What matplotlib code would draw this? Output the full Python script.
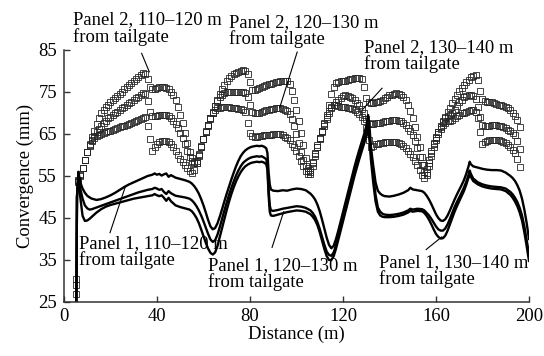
import matplotlib
matplotlib.use("Agg")
import matplotlib.pyplot as plt
import numpy as np

plt.rcParams['font.family'] = 'serif'
plt.rcParams['font.serif'] = ['Liberation Serif', 'Times New Roman', 'DejaVu Serif']
plt.rcParams['font.size'] = 13.4

# Panel 2 convergence, one reading per metre from 5 m
p2_start = 5
p2_110_120 = [
    27, 53.5, 55, 56.8, 58.7, 60.7, 62.6, 64.3, 65.8, 67.3,
    68.8, 70, 70.8, 71.5, 72, 72.5, 73, 73.6, 74.1, 74.6,
    75.1, 75.6, 76.1, 76.7, 77.2, 77.7, 78.2, 78.6, 79, 79.5,
    79.2, 78, 76.3, 75.6, 75.8, 76, 76.1, 76.2, 76.2, 76,
    75.6, 75, 74.2, 73, 71.5, 69.5, 67.5, 65.3, 62.8, 60.8,
    59.3, 58.3, 58.1, 59.8, 62, 63.9, 65.6, 67.2, 68.7, 70.2,
    71.7, 73.1, 74.5, 75.7, 76.7, 77.6, 78.3, 78.8, 79.2, 79.5,
    79.8, 80, 80.2, 80, 79.2, 77.3, 75.4, 75.5, 75.7, 75.9,
    76.1, 76.4, 76.6, 76.8, 77, 77.2, 77.3, 77.4, 77.5, 77.6,
    77.7, 77.6, 76.8, 75.2, 73.2, 70.8, 68.2, 65.3, 62.3, 59.3,
    56.8, 55.4, 57.4, 59.8, 62, 64, 65.8, 67.5, 69.5, 72,
    74.6, 76.2, 77.1, 77.4, 77.5, 77.5, 77.6, 77.8, 78, 78.2,
    78.3, 78.3, 78.3, 78.1, 76.3, 73.5, 72.6, 72.4, 72.4, 72.5,
    72.7, 72.9, 73.2, 73.5, 73.9, 74.2, 74.4, 74.6, 74.7, 74.6,
    74.3, 73.8, 73.1, 72, 70.5, 68.7, 66.6, 64.3, 61.8, 59.5,
    57.6, 56.6, 58.8, 61, 62.8, 64.2, 65.4, 66.6, 67.8, 69,
    70.2, 71.2, 72.3, 73.3, 74.3, 75.2, 76, 76.7, 77.3, 77.9,
    78.5, 78.9, 79, 77.8, 75.2, 73.4, 72.8, 72.5, 72.5, 72.5,
    72.4, 72.2, 72, 71.8, 71.6, 71.4, 71.1, 70.7, 70.1, 69.3,
    68.3, 66.7,
]
p2_120_130 = [
    29, 53.8, 55.2, 56.9, 58.8, 60.6, 62.3, 63.6, 64.6, 65.5,
    66.3, 67, 67.6, 68.2, 68.7, 69.1, 69.5, 69.9, 70.3, 70.7,
    71.1, 71.5, 71.9, 72.3, 72.7, 73.1, 73.5, 73.9, 74.3, 74.7,
    74.6, 72.8, 70.2, 69.2, 69.3, 69.4, 69.5, 69.6, 69.6, 69.5,
    69.2, 68.8, 68.2, 67.4, 66.4, 65.3, 64, 62.6, 61, 59.6,
    58.6, 58, 58.6, 60.2, 62.1, 63.8, 65.4, 67, 68.6, 70,
    71.6, 72.8, 73.7, 74.3, 74.7, 74.9, 75, 75, 75.1, 75.1,
    75, 75, 74.9, 74.7, 73.8, 71.8, 70.3, 70, 69.9, 70,
    70.2, 70.4, 70.6, 70.8, 70.9, 71, 71.1, 71.1, 71.1, 71,
    70.8, 70.4, 69.7, 68.5, 66.9, 65, 62.9, 60.8, 58.9, 57.3,
    56.2, 56.5, 58.4, 60.5, 62.3, 64, 65.7, 67.3, 69, 70.5,
    71.4, 72, 72.5, 73, 73.5, 74, 74.2, 74.1, 73.9, 73.5,
    73, 72.4, 71.8, 71, 70, 68.6, 67.7, 67.4, 67.4, 67.5,
    67.6, 67.7, 67.9, 68, 68.1, 68.2, 68.3, 68.3, 68.3, 68.2,
    68, 67.7, 67.2, 66.5, 65.7, 64.7, 63.3, 61.6, 59.6, 57.6,
    56, 55.6, 58, 60.5, 62.5, 64, 65.5, 66.8, 68, 68.8,
    69.2, 69.6, 70, 70.8, 71.7, 72.5, 73.2, 73.7, 74, 74.2,
    74.3, 74, 73.3, 71.5, 69, 67.2, 66.8, 66.9, 67, 67.1,
    67.1, 67.1, 67, 66.8, 66.6, 66.4, 66, 65.6, 65.2, 64.7,
    63.3, 61.5,
]
p2_130_140 = [
    30.5, 54, 55.4, 57, 58.9, 60.7, 62.2, 63.3, 64, 64.5,
    64.8, 65, 65.2, 65.4, 65.6, 65.8, 66, 66.2, 66.4, 66.6,
    66.8, 67, 67.2, 67.4, 67.6, 67.8, 68, 68.3, 68.5, 68.8,
    69, 67, 63.8, 60.9, 61.8, 62.6, 63, 63.3, 63.4, 63.3,
    63, 62.5, 61.8, 61, 60, 59.1, 58.3, 57.5, 56.8, 56.1,
    55.7, 56.4, 58, 60, 62, 63.8, 65.5, 67.2, 68.8, 70.1,
    70.8, 71.1, 71.3, 71.4, 71.4, 71.4, 71.4, 71.3, 71.2, 71.1,
    71, 70.9, 70.7, 70.2, 67.5, 65.2, 64.6, 64.4, 64.4, 64.5,
    64.6, 64.7, 64.7, 64.8, 64.8, 64.9, 64.9, 65, 64.9, 64.8,
    64.4, 64, 63.5, 62.7, 61.8, 61, 59.8, 58.6, 57.3, 56.2,
    55.5, 56, 58, 60.2, 62, 63.7, 65.4, 67, 68.6, 70,
    71.2, 71.8, 71.8, 71.6, 71.5, 71.4, 71.4, 71.3, 71.2, 70.9,
    70.6, 70.2, 69.8, 69.1, 68, 66.5, 63.5, 61.8, 62.2, 62.5,
    62.7, 62.8, 62.9, 63.1, 63.2, 63.2, 63.2, 63.1, 63, 62.8,
    62.6, 62.2, 61.6, 60.9, 60.2, 59.5, 58.5, 57.5, 56.4, 55.3,
    54.5, 55.2, 57.3, 59.8, 61.8, 63.6, 65, 66.2, 67.1, 67.7,
    68, 68.2, 68.4, 68.8, 69.3, 69.6, 69.9, 70.1, 70.3, 70.5,
    70.6, 70.7, 70.3, 68.8, 65.5, 62.5, 63, 63.3, 63.5, 63.6,
    63.6, 63.6, 63.6, 63.4, 63.1, 62.8, 62.4, 62, 61.3, 60.5,
    59, 57.2,
]

# Panel 1 convergence
p1_dist = [
    5.3, 5.6, 6.2, 7, 8, 9, 10, 11, 12, 14,
    16, 18, 20, 22, 24, 26, 28, 30, 32, 34,
    36, 38, 39, 40, 41, 42, 43, 44, 45, 46,
    47, 48, 50, 52, 54, 55, 56, 57, 58, 59,
    60, 61, 62, 63, 64, 65, 66, 67, 68, 69,
    70, 71, 72, 73, 74, 75, 76, 77, 78, 79,
    80, 81, 82, 83, 84, 85, 86, 87, 87.5, 88,
    88.5, 89, 90, 92, 94, 96, 98, 100, 102, 104,
    105, 106, 107, 108, 109, 110, 111, 112, 113, 114,
    115, 116, 117, 118, 119, 120, 121, 122, 123, 124,
    125, 126, 127, 128, 129, 130, 130.8, 131.5, 132, 133,
    134, 135, 136, 137, 138, 140, 142, 144, 146, 148,
    149, 150, 152, 154, 155, 156, 157, 158, 159, 160,
    161, 162, 163, 164, 165, 166, 167, 168, 169, 170,
    171, 172, 173, 174, 174.5, 175, 176, 178, 180, 182,
    184, 186, 188, 190, 192, 193, 194, 195, 196, 197,
    198, 199, 200,
]
p1_110_120 = [
    24, 50, 56, 53.5, 52, 51, 50.3, 49.9, 49.6, 49.3,
    49.5, 49.9, 50.4, 51, 51.7, 52.4, 53, 53.5, 54, 54.5,
    55, 55.3, 55.6, 55.3, 55.5, 55.1, 55.4, 55.6, 54.8, 55.2,
    54.9, 54.6, 54.3, 54, 53.6, 53.2, 52.6, 51.8, 50.8, 49.5,
    48, 46.3, 44.5, 43, 42.3, 42.6, 43.7, 45.3, 47.1, 49,
    50.8, 52.5, 54.2, 55.8, 57.3, 58.6, 59.7, 60.5, 61.1, 61.5,
    61.8, 62, 62.1, 62.2, 62.1, 62.2, 62, 61.6, 60.5, 56,
    53, 51.8, 51.5, 51.4, 51.6, 51.5, 51.8, 52, 51.9, 51.6,
    51.2, 50.8, 50.2, 49.4, 48.2, 46.6, 44.6, 42.4, 40.3, 38.6,
    37.8, 38.4, 40, 42, 44.2, 46.4, 48.6, 50.8, 53, 55.2,
    57.3, 59.3, 61.2, 63, 64.8, 66.8, 69.5, 66, 62, 57.5,
    53.5, 51.5, 50.8, 50.4, 50.2, 50.1, 50.3, 50.6, 51, 51.6,
    52.2, 51.8, 51.6, 51.4, 51, 50.3, 49.4, 48.3, 47.1, 45.9,
    45, 44.4, 44.3, 44.7, 45.6, 46.8, 48.1, 49.4, 50.6, 51.7,
    52.8, 54, 55.5, 57.3, 58.4, 57.8, 57.3, 57, 56.7, 56.5,
    56.4, 56.4, 56.3, 55.8, 55, 54.5, 53.8, 52.8, 51.5, 49.6,
    47, 43.8, 40,
]
p1_120_130 = [
    24, 50, 55.6, 52, 49.6, 48, 47.3, 47, 47.1, 47.5,
    47.9, 48.3, 48.7, 49.1, 49.5, 49.9, 50.3, 50.7, 51.1, 51.4,
    51.7, 51.9, 52.2, 52, 51.7, 51.9, 51.2, 50.7, 51.4, 50.9,
    50.6, 50.3, 50.1, 49.9, 49.6, 49.2, 48.6, 47.8, 46.8, 45.6,
    44.2, 42.7, 41.2, 39.9, 39.3, 39.7, 41, 42.8, 44.8, 46.8,
    48.7, 50.5, 52.2, 53.7, 55.1, 56.3, 57.3, 58.1, 58.6, 59,
    59.3, 59.5, 59.6, 59.7, 59.6, 59.7, 59.4, 59, 57.5, 52,
    48, 46.8, 46.7, 46.9, 47.2, 47.4, 47.6, 47.8, 47.7, 47.4,
    47.1, 46.8, 46.2, 45.3, 44, 42.4, 40.5, 38.6, 37, 36.2,
    36, 36.8, 38.5, 40.6, 42.8, 45, 47.2, 49.4, 51.6, 53.8,
    55.9, 57.9, 59.8, 61.6, 63.4, 65.3, 67.5, 64.5, 60.5, 55.5,
    50.5, 47.5, 46.5, 46, 45.8, 45.7, 45.8, 46, 46.3, 46.8,
    47.2, 47, 47.2, 47.1, 46.8, 46.2, 45.6, 44.8, 43.9, 43,
    42.3, 42, 42, 42.5, 43.5, 44.8, 46.2, 47.6, 48.8, 49.9,
    51, 52.2, 53.6, 55.3, 56.3, 55.5, 54.4, 53.5, 53, 52.7,
    52.5, 52.4, 52.3, 52, 51.2, 50.6, 49.8, 48.8, 47.4, 45.6,
    43, 39.8, 36.5,
]
p1_130_140 = [
    24, 50, 55.3, 50, 45.5, 44.3, 44.4, 44.8, 45.3, 46.3,
    47.1, 47.7, 48.1, 48.4, 48.7, 49, 49.3, 49.6, 49.8, 50,
    50.2, 50.4, 50.7, 50.4, 50.2, 50.4, 49.8, 49.1, 49.8, 49,
    48.5, 48, 47.6, 47.3, 47, 46.6, 45.9, 45, 43.8, 42.3,
    40.7, 39.1, 37.7, 36.7, 36.3, 36.8, 38.3, 40.4, 42.6, 44.8,
    46.9, 48.9, 50.7, 52.3, 53.7, 54.9, 55.9, 56.7, 57.3, 57.7,
    58, 58.2, 58.3, 58.4, 58.3, 58.4, 58.2, 57.8, 56.5, 50.5,
    46.5, 45.6, 45.5, 45.8, 46.1, 46.4, 46.6, 46.8, 46.7, 46.5,
    46.2, 45.9, 45.3, 44.5, 43.3, 41.6, 39.6, 37.6, 35.9, 35,
    35, 35.9, 37.7, 39.8, 42, 44.2, 46.4, 48.6, 50.8, 53,
    55.1, 57.1, 59, 60.8, 62.6, 64.4, 66.3, 63, 59, 53.5,
    49, 46.5, 45.6, 45.3, 45.2, 45.2, 45.3, 45.5, 45.8, 46.3,
    46.7, 46.5, 46.7, 46.6, 46.2, 45.5, 44.6, 43.5, 42.3, 41.2,
    40.5, 40.1, 40.2, 40.8, 42, 43.5, 45, 46.5, 47.8, 49,
    50.2, 51.4, 52.9, 54.6, 55.7, 54.8, 53.8, 53, 52.5, 52.2,
    52, 51.9, 51.8, 51.4, 50.5, 49.8, 48.9, 47.8, 46.3, 44.4,
    41.6, 38.3, 34.8,
]

x_ticks = [0, 40, 80, 120, 160, 200]
y_ticks = [25, 35, 45, 55, 65, 75, 85]

fig = plt.figure(figsize=(5.44, 3.56), dpi=100)
ax = fig.add_axes([0.1176, 0.1517, 0.8548, 0.7079])

for vals in (p2_110_120, p2_120_130, p2_130_140):
    d = np.arange(p2_start, p2_start + len(vals))
    ax.plot(d, vals, ls='none', marker='s', ms=4.3, mfc='none',
            mec='#262626', mew=0.6)

for vals in (p1_110_120, p1_120_130, p1_130_140):
    ax.plot(p1_dist, vals, color='black', lw=1.7)

ax.set_xlim(0, 200)
ax.set_ylim(25, 85)
ax.set_xticks(x_ticks)
ax.set_yticks(y_ticks)
ax.tick_params(direction='in', length=4, width=1, colors='#333333',
               labelcolor='black', labelsize=13.4)
ax.tick_params(axis='y', pad=5)
ax.tick_params(axis='x', pad=4)
for side in ('top', 'right'):
    ax.spines[side].set_visible(False)
for side in ('left', 'bottom'):
    ax.spines[side].set_color('#333333')
    ax.spines[side].set_linewidth(1.1)

ax.set_xlabel('Distance (m)', labelpad=1)
ax.set_ylabel('Convergence (mm)', labelpad=3)

# labels with leader lines
notes = [
    ('Panel 2, 110\u2013120 m\nfrom tailgate', 3.9, 94.2, (33.4, 36.7), (84.2, 79.8)),
    ('Panel 2, 120\u2013130 m\nfrom tailgate', 71.0, 93.5, (100.3, 92.8), (84.5, 71.3)),
    ('Panel 2, 130\u2013140 m\nfrom tailgate', 129.0, 87.6, (136.8, 128.2), (75.9, 70.7)),
    ('Panel 1, 110\u2013120 m\nfrom tailgate', 6.5, 40.9, (19.8, 26.3), (41.5, 52.3)),
    ('Panel 1, 120\u2013130 m\nfrom tailgate', 62.0, 35.7, (89.5, 94.5), (38.0, 46.5)),
    ('Panel 1, 130\u2013140 m\nfrom tailgate', 135.5, 36.4, (155.8, 162.5), (37.5, 40.5)),
]
for txt, tx, ty, lx, ly in notes:
    ax.text(tx, ty, txt, ha='left', va='top', fontsize=13.4,
            linespacing=0.95, clip_on=False)
    ax.plot(lx, ly, color='black', lw=0.8, clip_on=False)

fig.savefig('out.png', dpi=100)
